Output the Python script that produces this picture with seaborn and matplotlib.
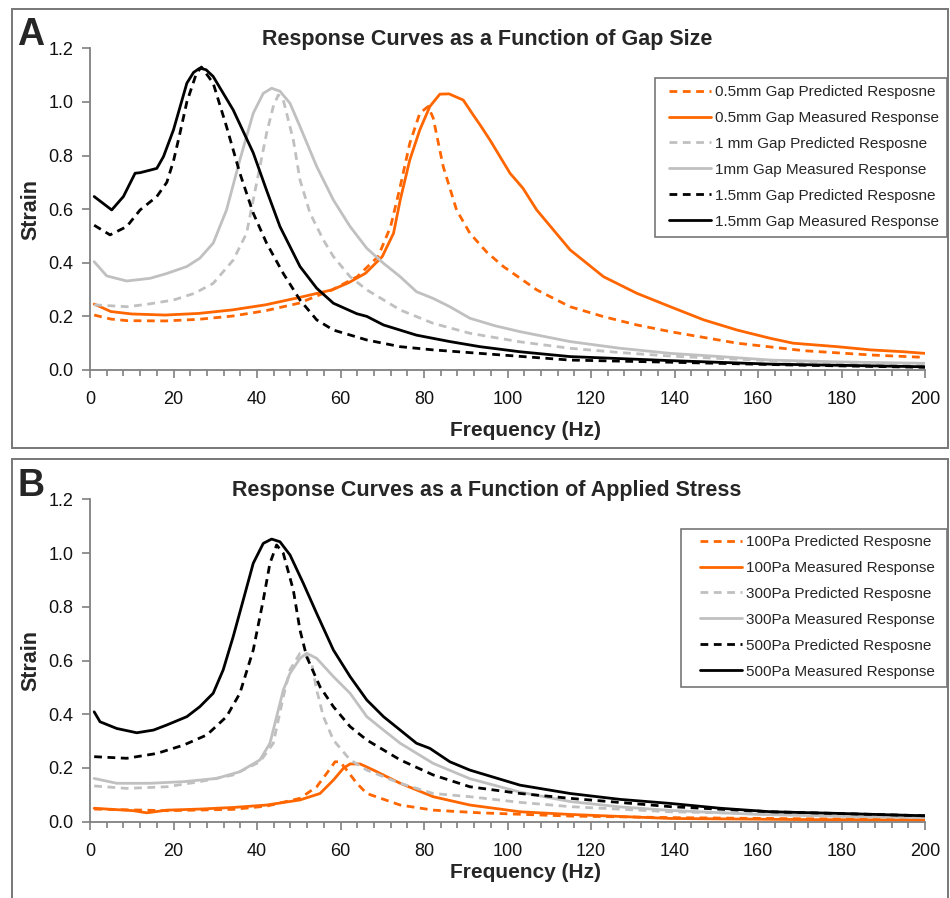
import numpy as np
import pandas as pd
import seaborn as sns
import matplotlib.pyplot as plt
from matplotlib.patches import Rectangle
from matplotlib.ticker import MultipleLocator

# ---- Panel A : gap size ----
a_freq_05_pred = [1, 5, 9, 18, 26, 34, 42, 50, 58, 64, 69, 72, 74.3, 76.6, 79, 81, 82.2, 84.6, 87.8, 91, 95, 99, 107, 115, 123, 131, 139, 155, 171, 187, 200]
a_strain_05_pred = [0.205, 0.19, 0.184, 0.183, 0.189, 0.201, 0.221, 0.249, 0.299, 0.348, 0.423, 0.535, 0.684, 0.846, 0.958, 0.983, 0.94, 0.759, 0.597, 0.51, 0.44, 0.386, 0.299, 0.236, 0.199, 0.168, 0.143, 0.1, 0.072, 0.056, 0.047]

a_freq_05_meas = [1, 5, 10, 18, 26, 34, 42, 50, 58, 62, 66, 70, 72.7, 74.3, 76.6, 79, 81.4, 83.8, 86, 89.4, 91.8, 93.4, 95.8, 100.6, 103.7, 107, 115, 123, 131, 139, 147, 155, 163, 168.4, 179, 187, 195, 200]
a_strain_05_meas = [0.246, 0.218, 0.209, 0.205, 0.211, 0.224, 0.243, 0.27, 0.299, 0.326, 0.361, 0.423, 0.51, 0.634, 0.784, 0.896, 0.983, 1.029, 1.03, 1.007, 0.951, 0.915, 0.858, 0.734, 0.678, 0.597, 0.448, 0.348, 0.286, 0.236, 0.187, 0.149, 0.118, 0.1, 0.087, 0.075, 0.068, 0.062]

a_freq_1_pred = [1, 9, 14, 20, 25, 29.5, 34.3, 37.5, 39.9, 42.3, 43.9, 45.1, 46.3, 48.7, 50.3, 52.7, 55.9, 58.3, 62.3, 66.3, 74.3, 82.2, 91, 103, 115, 127, 139, 151, 163, 180, 200]
a_strain_1_pred = [0.243, 0.236, 0.246, 0.261, 0.286, 0.323, 0.41, 0.51, 0.697, 0.883, 0.983, 1.026, 1.007, 0.858, 0.709, 0.585, 0.485, 0.423, 0.348, 0.299, 0.224, 0.174, 0.137, 0.105, 0.081, 0.065, 0.052, 0.043, 0.035, 0.027, 0.019]

a_freq_1_meas = [1, 4, 8.8, 14.4, 18.4, 23.2, 26.3, 29.5, 32.7, 35.9, 39.1, 41.5, 43.5, 45.5, 47.9, 50.3, 54.3, 58.3, 62.3, 66.3, 70.3, 74.3, 78.2, 82.2, 86.2, 91, 97, 103, 115, 127, 139, 151, 163, 180, 200]
a_strain_1_meas = [0.404, 0.351, 0.332, 0.342, 0.36, 0.386, 0.417, 0.473, 0.597, 0.784, 0.958, 1.032, 1.051, 1.04, 0.995, 0.908, 0.759, 0.634, 0.535, 0.454, 0.398, 0.348, 0.292, 0.267, 0.236, 0.193, 0.165, 0.143, 0.106, 0.081, 0.062, 0.05, 0.037, 0.03, 0.025]

a_freq_15_pred = [1, 4.8, 8.8, 12, 16, 18.4, 20, 21.5, 23.2, 25.5, 26.7, 29.5, 32.7, 35.9, 39.1, 42.3, 46.3, 50.3, 54.3, 58.3, 66.3, 74.3, 82.2, 93.4, 115, 139, 170, 200]
a_strain_15_pred = [0.54, 0.504, 0.535, 0.597, 0.647, 0.70, 0.78, 0.88, 1.0, 1.107, 1.13, 1.07, 0.908, 0.734, 0.585, 0.473, 0.36, 0.261, 0.187, 0.149, 0.112, 0.087, 0.075, 0.062, 0.037, 0.029, 0.018, 0.01]

a_freq_15_meas = [1, 5.2, 8, 10.8, 12, 16, 17.6, 20, 23.2, 24.8, 26.3, 27.8, 29.5, 34.3, 39.1, 42.3, 45.5, 50.3, 54.3, 58.3, 63.9, 66.3, 70.3, 78.2, 86.2, 93.4, 103, 115, 139, 163, 200]
a_strain_15_meas = [0.647, 0.597, 0.647, 0.734, 0.736, 0.752, 0.796, 0.896, 1.07, 1.11, 1.126, 1.12, 1.095, 0.97, 0.81, 0.67, 0.535, 0.386, 0.305, 0.249, 0.21, 0.2, 0.168, 0.13, 0.106, 0.087, 0.068, 0.05, 0.035, 0.022, 0.012]

# ---- Panel B : applied stress ----
b_freq_100_pred = [1, 18.4, 34.3, 42.3, 50.3, 54.3, 56.7, 58.7, 59.9, 61.5, 63.9, 66.3, 74.3, 82.2, 93.4, 115, 140, 170, 200]
b_strain_100_pred = [0.047, 0.041, 0.046, 0.058, 0.087, 0.13, 0.18, 0.223, 0.223, 0.192, 0.143, 0.105, 0.062, 0.043, 0.033, 0.021, 0.015, 0.011, 0.009]

b_freq_100_meas = [1, 10.4, 13.6, 18.4, 26.3, 34.3, 42.3, 50.3, 55.1, 58.3, 60.7, 62.3, 64.7, 67.9, 74.3, 82.2, 91, 103, 115, 139, 170, 200]
b_strain_100_meas = [0.05, 0.041, 0.033, 0.043, 0.047, 0.053, 0.062, 0.081, 0.105, 0.155, 0.199, 0.215, 0.215, 0.192, 0.143, 0.093, 0.062, 0.037, 0.027, 0.012, 0.008, 0.006]

b_freq_300_pred = [1, 8.8, 18.4, 26.3, 34.3, 40.7, 43.9, 46.3, 47.9, 50.3, 51.5, 53.1, 54.3, 55.9, 58.3, 62.3, 66.3, 74.3, 82.2, 91, 103, 115, 139, 170, 200]
b_strain_300_pred = [0.133, 0.124, 0.13, 0.149, 0.174, 0.223, 0.292, 0.465, 0.565, 0.627, 0.627, 0.589, 0.49, 0.391, 0.304, 0.23, 0.192, 0.143, 0.105, 0.093, 0.072, 0.056, 0.037, 0.027, 0.019]

b_freq_300_meas = [1, 6.4, 14.4, 22.4, 30.3, 35.9, 40.7, 43.1, 44.7, 46.3, 47.9, 50.3, 51.9, 54.3, 58.3, 62.3, 66.3, 70.3, 74.3, 82.2, 91, 103, 115, 127, 139, 160, 180, 200]
b_strain_300_meas = [0.161, 0.143, 0.143, 0.149, 0.161, 0.186, 0.23, 0.292, 0.391, 0.49, 0.552, 0.608, 0.627, 0.608, 0.54, 0.478, 0.391, 0.341, 0.292, 0.217, 0.16, 0.11, 0.075, 0.055, 0.042, 0.027, 0.02, 0.015]

b_freq_500_pred = [1, 8.8, 16, 22.4, 28, 32.7, 35.9, 39.1, 41.5, 43.1, 44.7, 46.3, 48.7, 50.3, 51.9, 55.1, 58.3, 62.3, 66.3, 74.3, 82.2, 91, 103, 115, 139, 163, 200]
b_strain_500_pred = [0.242, 0.236, 0.254, 0.285, 0.323, 0.391, 0.478, 0.639, 0.825, 0.962, 1.03, 0.999, 0.862, 0.713, 0.614, 0.502, 0.428, 0.354, 0.304, 0.23, 0.174, 0.13, 0.105, 0.087, 0.056, 0.037, 0.022]

b_freq_500_meas = [1, 2.4, 6.4, 11.2, 15.2, 18.4, 23.2, 26.3, 29.5, 31.9, 34.3, 36.7, 39.1, 41.5, 43.5, 45.5, 47.9, 51.1, 54.3, 58.3, 62.3, 66.3, 70.3, 74.3, 78.2, 81.4, 86.2, 91, 103, 115, 127, 139, 151, 163, 179, 200]
b_strain_500_meas = [0.409, 0.372, 0.347, 0.331, 0.341, 0.36, 0.391, 0.428, 0.478, 0.565, 0.689, 0.825, 0.962, 1.036, 1.052, 1.042, 0.993, 0.887, 0.775, 0.639, 0.54, 0.453, 0.391, 0.341, 0.292, 0.273, 0.223, 0.192, 0.136, 0.105, 0.083, 0.068, 0.05, 0.037, 0.031, 0.022]

ORANGE = '#ff6600'
GREY = '#c0c0c0'
BLACK = '#000000'
AXIS_GREY = '#808080'
FRAME_GREY = '#777777'

series_a = [
    ('0.5mm Gap Predicted Resposne', a_freq_05_pred, a_strain_05_pred, ORANGE, True),
    ('0.5mm Gap Measured Response', a_freq_05_meas, a_strain_05_meas, ORANGE, False),
    ('1 mm Gap Predicted Resposne', a_freq_1_pred, a_strain_1_pred, GREY, True),
    ('1mm Gap Measured Response', a_freq_1_meas, a_strain_1_meas, GREY, False),
    ('1.5mm Gap Predicted Resposne', a_freq_15_pred, a_strain_15_pred, BLACK, True),
    ('1.5mm Gap Measured Response', a_freq_15_meas, a_strain_15_meas, BLACK, False),
]

series_b = [
    ('100Pa Predicted Resposne', b_freq_100_pred, b_strain_100_pred, ORANGE, True),
    ('100Pa Measured Response', b_freq_100_meas, b_strain_100_meas, ORANGE, False),
    ('300Pa Predicted Resposne', b_freq_300_pred, b_strain_300_pred, GREY, True),
    ('300Pa Measured Response', b_freq_300_meas, b_strain_300_meas, GREY, False),
    ('500Pa Predicted Resposne', b_freq_500_pred, b_strain_500_pred, BLACK, True),
    ('500Pa Measured Response', b_freq_500_meas, b_strain_500_meas, BLACK, False),
]

sns.set_theme()
sns.set_style("ticks")
plt.rcParams['font.family'] = ['Liberation Sans', 'DejaVu Sans']

W, H = 950, 898
fig = plt.figure(figsize=(W / 100, H / 100), dpi=100)


def fx(px):
    return px / W


def fy(py):
    return 1 - py / H


def add_box(x0, y0, x1, y1, lw):
    # rectangle given in pixel coords of the figure (top-left origin)
    fig.patches.append(Rectangle((fx(x0), fy(y1)), fx(x1) - fx(x0), fy(y0) - fy(y1),
                                 transform=fig.transFigure, fill=False, edgecolor=FRAME_GREY, linewidth=lw))


def draw_panel(series, ax_top, ax_bot, title, letter, box, leg_box, leg_anchor, xlab_y):
    """
    Draw one panel: frame, axes, curves, legend
    """
    add_box(*box, lw=1.4)

    ax = fig.add_axes([fx(90), fy(ax_bot), fx(925) - fx(90), fy(ax_top) - fy(ax_bot)])

    for label, f, s, color, dashed in series:
        df = pd.DataFrame({'freq': f, 'strain': s})
        sns.lineplot(data=df, x='freq', y='strain', ax=ax, color=color, linewidth=2.0,
                     linestyle=(0, (2.8, 2.0)) if dashed else '-', label=label, sort=False)

    ax.set_xlim(0, 200)
    ax.set_ylim(0, 1.2)
    ax.xaxis.set_major_locator(MultipleLocator(20))
    ax.xaxis.set_minor_locator(MultipleLocator(4))
    ax.yaxis.set_major_locator(MultipleLocator(0.2))
    ax.yaxis.set_major_formatter(plt.FormatStrFormatter('%.1f'))

    sns.despine(ax=ax)
    for side in ['left', 'bottom']:
        ax.spines[side].set_color(AXIS_GREY)
        ax.spines[side].set_linewidth(1.3)
    ax.tick_params(axis='x', which='major', length=6, width=1.2, color=AXIS_GREY, labelsize=13, pad=9, labelcolor='#111111')
    ax.tick_params(axis='x', which='minor', length=4, width=1.2, color=AXIS_GREY)
    ax.tick_params(axis='y', which='major', length=6, width=1.2, color=AXIS_GREY, labelsize=13, pad=6, labelcolor='#111111')

    ax.set_xlabel('Frequency (Hz)', fontsize=15, fontweight='bold')
    ax.set_ylabel('Strain', fontsize=15.5, fontweight='bold')
    ax.xaxis.set_label_coords((526 - 90) / 835, -(xlab_y - ax_bot) / (ax_bot - ax_top))
    ax.yaxis.set_label_coords(-0.058, 0.5)

    fig.text(fx(487), fy(ax_top - 3.5), title, ha='center', va='baseline', fontsize=15.5, fontweight='bold')
    fig.text(fx(17), fy(ax_top - 3.5), letter, ha='left', va='baseline', fontsize=27, fontweight='bold')

    add_box(*leg_box, lw=1.2)
    ax.legend(loc='upper left', bbox_to_anchor=(fx(leg_anchor[0]), fy(leg_anchor[1])), bbox_transform=fig.transFigure,
              fontsize=11, frameon=False, handlelength=2.75, handletextpad=0.25,
              labelspacing=0.78, borderpad=0, borderaxespad=0)
    return ax


draw_panel(series_a, 48.3, 370, 'Response Curves as a Function of Gap Size', 'A',
           (11.5, 9, 947.5, 448), (655, 78, 947, 237), (669, 85), 421)
draw_panel(series_b, 499.3, 821.7, 'Response Curves as a Function of Applied Stress', 'B',
           (11.5, 459.3, 947.5, 905), (681, 529, 947, 687), (700, 535), 863)

plt.savefig('out.png', dpi=100)
